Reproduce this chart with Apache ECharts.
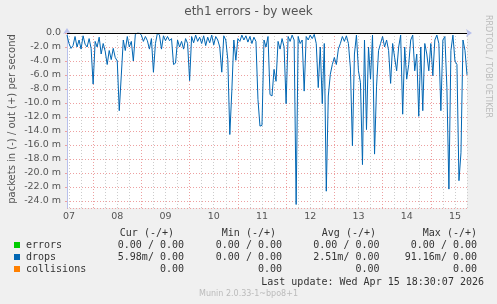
<!DOCTYPE html>
<html>
<head>
<meta charset="utf-8">
<script src="https://cdn.jsdelivr.net/npm/echarts@6/dist/echarts.min.js"></script>
<style>
html,body{margin:0;padding:0;background:#f0f0f0;}
#c{width:497px;height:304px;}
</style>
</head>
<body>
<div id="c"></div>
<script>
// hourly samples, hours counted from Apr 07 00:00
const startHour = 11;
const dayLabels = ['07','08','09','10','11','12','13','14','15'];
// drops (in, shown negative), in milli packets / second
const dropsIn = [
 -0.3,-1.5,-2.2,-1.8,-0.5,-2.0,-1.0,-2.3,-0.4,-1.6,-2.0,-0.8,-2.2,
 -7.3,
 -1.2,-2.0,-0.6,-3.0,-1.5,-2.6,-4.5,-2.5,-3.8,-2.2,-3.5,-4.0,-11.1,-6.1,
 -1.0,-2.5,-0.5,-2.0,-1.2,-4.0,-0.2,0,0,-0.3,-1.2,-0.5,-1.1,
 -2.3,-0.8,-5.6,-1.5,0,-0.3,-2.3,-0.4,-1.1,-0.5,-1.1,-0.8,-4.5,
 -4.3,-1.0,-2.0,-1.2,-2.3,-0.8,-1.5,-6.8,-0.5,-1.4,-0.3,-1.2,-0.6,
 -1.5,-0.4,-1.8,-0.6,-1.4,-0.3,-1.7,-0.5,-1.0,-2.0,-5.6,-0.4,-1.0,-3.8,
 -14.5,-8.3,-1.0,-3.9,-0.8,-1.2,-0.3,-1.0,-0.4,-1.3,-0.5,-1.5,-0.6,-1.2,
 -9.5,-13.3,-13.2,-1.0,-2.0,-0.5,
 -8.8,-9.0,-5.2,-6.9,-1.2,-2.3,-0.8,-2.0,-10.1,-0.5,-1.2,-0.3,-1.0,
 -24.5,-0.5,-1.5,-1.0,-8.3,-0.5,-1.0,-0.3,-0.8,-0.2,-1.5,-7.8,-2.0,
 -10.1,-1.5,-22.6,-9.0,-5.9,-4.5,-3.5,-4.5,-2.3,-1.5,-0.5,-1.2,-0.4,-1.5,
 -5.0,-16.1,-3.0,-0.3,-5.4,-7.1,-18.8,-1.0,-13.8,-2.0,-6.6,-0.3,
 -17.3,-7.6,-2.5,-1.5,-0.5,-2.0,-1.0,-2.5,-7.2,-1.5,-3.5,-5.4,-2.0,-0.3,
 -11.6,-2.0,-6.6,-4.5,-1.0,-0.3,-5.4,-3.0,-11.9,-2.0,-11.1,-1.5,
 -3.0,-5.4,-1.5,-6.1,-1.0,-0.3,-1.5,-11.1,-1.0,-0.5,-7.8,-22.3,
 -2.5,-0.3,-4.0,-4.5,-21.1,-17.1,-1.0,-2.5,-5.98
];
const hours = dropsIn.map((_, i) => String(startHour + i));

// legend table
const legendNames = ['errors','drops','collisions'];
const legendColors = ['#00cc00','#0066b3','#ff8000'];
const legendHeaders = ['Cur (-/+)','Min (-/+)','Avg (-/+)','Max (-/+)'];
const curVals = ['0.00 / 0.00','5.98m/ 0.00','0.00'];
const minVals = ['0.00 / 0.00','0.00 / 0.00','0.00'];
const avgVals = ['0.00 / 0.00','2.51m/ 0.00','0.00'];
const maxVals = ['0.00 / 0.00','91.16m/ 0.00','0.00'];

const chart = echarts.init(document.getElementById('c'));
const mono = 'DejaVu Sans Mono';
const sans = 'DejaVu Sans';
const colRight = [184, 282, 379.5, 477];
const headRight = [174, 276, 376, 477];
const rowY = [245.5, 257.5, 269.5];

const graphics = [];
graphics.push({type:'text', left:'center', top:6, style:{text:'eth1 errors - by week', font:'12px '+sans, fill:'#555'}});
graphics.push({type:'text', x:12, y:119, rotation:Math.PI/2, style:{text:'packets in (-) / out (+) per second', font:'10px '+sans, fill:'#555', align:'center', verticalAlign:'middle'}});
graphics.push({type:'text', x:488, y:15, rotation:-Math.PI/2, style:{text:'RRDTOOL / TOBI OETIKER', font:'8px '+sans, fill:'#bbb', align:'left', verticalAlign:'middle'}});
legendHeaders.forEach((h, k) => graphics.push({type:'text', x:headRight[k], y:233.5, style:{text:h, font:'10px '+mono, fill:'#333', align:'right', verticalAlign:'middle'}}));
const cols = [curVals, minVals, avgVals, maxVals];
legendNames.forEach((n, r) => {
  graphics.push({type:'rect', shape:{x:14, y:rowY[r]-3.5, width:6, height:6}, style:{fill:legendColors[r]}});
  graphics.push({type:'text', x:26, y:rowY[r], style:{text:n, font:'10px '+mono, fill:'#333', align:'left', verticalAlign:'middle'}});
  cols.forEach((c, k) => graphics.push({type:'text', x:colRight[k], y:rowY[r], style:{text:c[r], font:'10px '+mono, fill:'#333', align:'right', verticalAlign:'middle'}}));
});
graphics.push({type:'text', x:484, y:282, style:{text:'Last update: Wed Apr 15 18:30:07 2026', font:'10px '+mono, fill:'#333', align:'right', verticalAlign:'middle'}});
graphics.push({type:'text', x:248.5, y:293.5, style:{text:'Munin 2.0.33-1~bpo8+1', font:'8px '+sans, fill:'#bbb', align:'center', verticalAlign:'middle'}});

const isNoon = (i, v) => Number(v) % 24 === 12;
chart.setOption({
  animation:false,
  backgroundColor:'#f0f0f0',
  grid:{left:67, top:33, right:30, height:175, show:true, backgroundColor:'#ffffff', borderWidth:0},
  graphic: graphics,
  xAxis:[{
    type:'category', data:hours, boundaryGap:false, gridIndex:0,
    axisLine:{show:true, lineStyle:{color:'#b8c0ec', width:1}, symbol:['none','arrow'], symbolSize:[6,6], symbolOffset:[0,5]},
    axisTick:{show:false},
    axisLabel:{interval:isNoon, formatter:(v) => dayLabels[(Number(v)-12)/24], color:'#555', fontFamily:sans, fontSize:9.5, margin:4},
    splitLine:{show:true, interval:(i, v) => Number(v) % 24 === 0, lineStyle:{color:'#eda0a0', type:[1,2], width:1}}
  },{
    type:'category', data:hours, boundaryGap:false, gridIndex:0, position:'bottom',
    axisLine:{show:false}, axisTick:{show:false}, axisLabel:{show:false},
    splitLine:{show:true, interval:(i, v) => Number(v) % 6 === 0 && Number(v) % 24 !== 0, lineStyle:{color:'#cccccc', type:[1,2], width:1}}
  }],
  yAxis:{
    type:'value', min:-25, max:0, splitNumber:12,
    axisLine:{show:true, lineStyle:{color:'#b8c0ec', width:1}, symbol:['none','arrow'], symbolSize:[6,6], symbolOffset:[0,5]},
    axisTick:{show:true, length:2, lineStyle:{color:'#eda0a0'}},
    axisLabel:{showMinLabel:false, formatter:(v) => v === 0 ? '0.0' : v.toFixed(1) + ' m', color:'#555', fontFamily:sans, fontSize:9.5, margin:6},
    splitLine:{show:true, lineStyle:{color:'#eda0a0', type:[1,2], width:1}}
  },
  series:[{
    name:'drops', type:'line', data:dropsIn, xAxisIndex:0, symbol:'none',
    lineStyle:{color:'#0066b3', width:1}, itemStyle:{color:'#0066b3'},
    markLine:{silent:true, symbol:'none', label:{show:false}, lineStyle:{color:'#000', type:'solid', width:1}, data:[{yAxis:0}]}
  }]
});
</script>
</body>
</html>
